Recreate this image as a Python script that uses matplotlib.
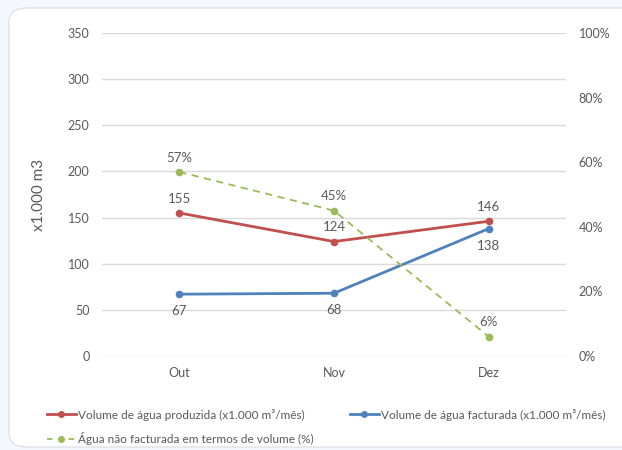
import matplotlib.pyplot as plt
from matplotlib.patches import FancyBboxPatch
from matplotlib.lines import Line2D

plt.rcParams['font.family'] = ['Lato', 'DejaVu Sans']

months = ['Out', 'Nov', 'Dez']
produzida = [155, 124, 146]
facturada = [67, 68, 138]
nao_facturada = [57, 45, 6]  # %

red = '#C0504D'
blue = '#4F81BD'
green = '#9BBB59'
txt = '#595959'

W, H = 622, 450
fig = plt.figure(figsize=(W / 100, H / 100), dpi=100)
fig.patch.set_facecolor('#F4F8FC')

# white card
card = FancyBboxPatch((9 / W, 3 / H), 1.2, (H - 11) / H, boxstyle='round,pad=0,rounding_size=0.03',
                      transform=fig.transFigure, facecolor='white', edgecolor='#DDE3EA',
                      linewidth=1, zorder=-10)
fig.patches.append(card)

ax = fig.add_axes([102 / W, 1 - 356 / H, 464 / W, 323 / H])
ax.set_facecolor('none')
x = range(len(months))

ax.plot(x, produzida, color=red, lw=2, marker='o', ms=4.5, zorder=3)
ax.plot(x, facturada, color=blue, lw=2, marker='o', ms=4.5, zorder=3)
ax.set_xlim(-0.5, 2.5)
ax.set_ylim(0, 350)
ax.set_yticks(range(0, 351, 50))
ax.set_xticks(list(x))
ax.set_xticklabels(months)
ax.grid(axis='y', color='#D9D9D9', lw=1)
ax.set_axisbelow(True)
for s in ax.spines.values():
    s.set_visible(False)
ax.tick_params(length=0, colors=txt, labelsize=9, pad=9)
ax.tick_params(axis='x', pad=8)
ax.set_ylabel('x1.000 m3', color=txt, fontsize=11, labelpad=16)

for i, v in enumerate(produzida):
    ax.annotate(str(v), (i, v), xytext=(0, 6), textcoords='offset points',
                ha='center', va='bottom', color=txt, fontsize=9.5)
for i, v in enumerate(facturada):
    ax.annotate(str(v), (i, v), xytext=(0, -8), textcoords='offset points',
                ha='center', va='top', color=txt, fontsize=9.5)

ax2 = ax.twinx()
ax2.plot(x, nao_facturada, color=green, lw=1.3, ls=(0, (4, 3)), marker='o', ms=4.5, zorder=3)
ax2.set_ylim(0, 100)
ax2.set_yticks(range(0, 101, 20))
ax2.set_yticklabels([f'{t}%' for t in range(0, 101, 20)])
for s in ax2.spines.values():
    s.set_visible(False)
ax2.tick_params(length=0, colors=txt, labelsize=9, pad=9)
for i, v in enumerate(nao_facturada):
    ax2.annotate(f'{v}%', (i, v), xytext=(0, 6), textcoords='offset points',
                 ha='center', va='bottom', color=txt, fontsize=9.5)

handles = [
    Line2D([], [], color=red, lw=2, marker='o', ms=4),
    Line2D([], [], color=green, lw=1.3, ls=(0, (3, 3)), marker='o', ms=4),
    Line2D([], [], color=blue, lw=2, marker='o', ms=4),
]
labels = [
    'Volume de água produzida (x1.000 m³/mês)',
    'Água não facturada em termos de volume (%)',
    'Volume de água facturada (x1.000 m³/mês)',
]
fig.legend(handles, labels, ncol=2, loc='upper left', bbox_to_anchor=(36 / W, 1 - 398 / H),
           frameon=False, fontsize=8.5, labelcolor=txt, handlelength=2.5, handletextpad=0.2,
           columnspacing=3.0, labelspacing=1.0)

fig.savefig('out.png', dpi=100)
